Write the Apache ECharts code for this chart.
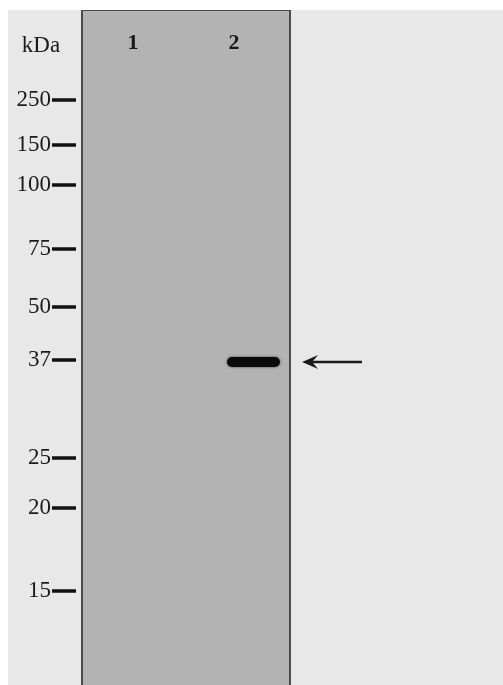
<!DOCTYPE html>
<html>
<head>
<meta charset="utf-8">
<script src="https://cdn.jsdelivr.net/npm/echarts@6/dist/echarts.min.js"></script>
<style>
html,body{margin:0;padding:0;background:#ffffff;width:503px;height:685px;overflow:hidden;}
#c{position:absolute;left:8px;top:10px;width:495px;height:680px;background:#e8e8e8;}
</style>
</head>
<body>
<div id="c"></div>
<script>
// Marker ladder (kDa) and their migration distance (from top of membrane)
var markerKDa = ['250', '150', '100', '75', '50', '37', '25', '20', '15'];
var markerMigration = [90, 135, 175, 239, 297, 350, 448, 498, 581];
// Lanes
var laneNames = ['1', '2'];
var lanePositions = [0.51, 1.52];
var laneLabelMigration = 33;
// Detected band(s): lane-position start, end, migration
var bandStart = [1.45];
var bandEnd = [1.98];
var bandMigration = [352];
// Arrow pointing at band (arrow grid units)
var arrowTip = [0.057];
var arrowTail = [0.338];
var unitLabel = 'kDa';
var unitLabelMigration = 36;

var FONT = '"Liberation Serif", "DejaVu Serif", serif';
var chart = echarts.init(document.getElementById('c'), null, {renderer: 'canvas'});

var yBase = {type: 'value', inverse: true, min: 0, max: 680, show: false};

var ladderData = markerKDa.map(function (k, i) { return [0.757, markerMigration[i], k]; });
var laneData = laneNames.map(function (n, i) { return [lanePositions[i], laneLabelMigration, n]; });
var bandData = bandStart.map(function (s, i) { return [s, bandEnd[i], bandMigration[i]]; });
var arrowData = arrowTip.map(function (t, i) { return [t, arrowTail[i], bandMigration[i]]; });

function fmt(p) { return p.data[2]; }

chart.setOption({
  backgroundColor: 'transparent',
  animation: false,
  grid: [
    {left: 0, top: 0, width: 74, height: 680, show: false},
    {left: 74, top: 0, width: 208, height: 680, show: true,
     backgroundColor: '#b3b3b3', borderColor: '#4a4a4a', borderWidth: 2},
    {left: 282, top: 0, width: 213, height: 680, show: false}
  ],
  xAxis: [
    {gridIndex: 0, type: 'value', min: 0, max: 1, show: false},
    {gridIndex: 1, type: 'value', min: 0, max: 2.08, show: false},
    {gridIndex: 2, type: 'value', min: 0, max: 1, show: false}
  ],
  yAxis: [
    Object.assign({gridIndex: 0}, yBase),
    Object.assign({gridIndex: 1}, yBase),
    Object.assign({gridIndex: 2}, yBase)
  ],
  series: [
    {
      type: 'scatter', xAxisIndex: 0, yAxisIndex: 0,
      data: ladderData,
      symbol: 'rect', symbolSize: [24, 3.5],
      itemStyle: {color: '#111111', opacity: 1},
      label: {show: true, position: 'left', distance: 1, formatter: fmt,
        fontFamily: FONT, fontSize: 23, color: '#1a1a1a'}
    },
    {
      type: 'scatter', xAxisIndex: 0, yAxisIndex: 0,
      data: [[0.446, unitLabelMigration, unitLabel]],
      symbol: 'circle', symbolSize: 1,
      itemStyle: {color: 'rgba(0,0,0,0)', opacity: 1},
      label: {show: true, position: 'inside', formatter: fmt,
        fontFamily: FONT, fontSize: 23, color: '#1a1a1a'}
    },
    {
      type: 'scatter', xAxisIndex: 1, yAxisIndex: 1,
      data: laneData,
      symbol: 'circle', symbolSize: 1,
      itemStyle: {color: 'rgba(0,0,0,0)', opacity: 1},
      label: {show: true, position: 'inside', formatter: fmt,
        fontFamily: FONT, fontSize: 22, fontWeight: 'bold', color: '#1a1a1a'}
    },
    {
      type: 'custom', xAxisIndex: 1, yAxisIndex: 1,
      data: bandData,
      renderItem: function (params, api) {
        var a = api.coord([api.value(0), api.value(2)]);
        var b = api.coord([api.value(1), api.value(2)]);
        var h = 10;
        return {
          type: 'rect',
          shape: {x: a[0], y: a[1] - h / 2, width: b[0] - a[0], height: h, r: h / 2},
          style: {fill: '#0a0a0a', shadowBlur: 3, shadowColor: 'rgba(0,0,0,0.55)'}
        };
      }
    },
    {
      type: 'custom', xAxisIndex: 2, yAxisIndex: 2,
      data: arrowData,
      renderItem: function (params, api) {
        var t = api.coord([api.value(0), api.value(2)]);
        var e = api.coord([api.value(1), api.value(2)]);
        var hl = 16, hw = 7;
        return {
          type: 'group',
          children: [
            {type: 'line', shape: {x1: t[0] + 6, y1: t[1], x2: e[0], y2: e[1]},
             style: {stroke: '#1a1a1a', lineWidth: 2.4}},
            {type: 'polygon',
             shape: {points: [[t[0], t[1]], [t[0] + hl, t[1] - hw], [t[0] + hl * 0.62, t[1]], [t[0] + hl, t[1] + hw]]},
             style: {fill: '#1a1a1a'}}
          ]
        };
      }
    }
  ]
});
</script>
</body>
</html>
